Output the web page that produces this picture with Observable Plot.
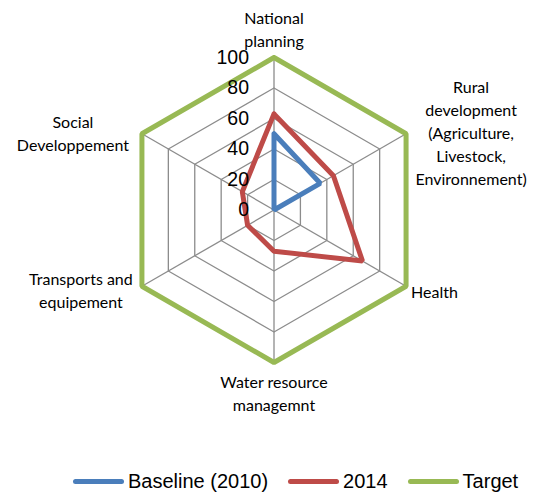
<!DOCTYPE html>
<html>
<head>
<meta charset="utf-8">
<script src="https://cdn.jsdelivr.net/npm/d3@7"></script>
<script src="https://cdn.jsdelivr.net/npm/@observablehq/plot@0.6"></script>
<style>
  body { margin: 0; background: #fff; }
  #chart { width: 554px; }
  .legend { display: flex; justify-content: flex-start; align-items: center; padding-left: 73px; height: 42px;
    font-family: "Liberation Sans", Arial, sans-serif; font-size: 20px; color: #000; }
  .legend .item { display: flex; align-items: center; margin-right: 20px; }
  .legend .sw { width: 51px; height: 5px; border-radius: 3px; margin-right: 4px; }
</style>
</head>
<body>
<div id="chart"></div>
<script>
// ---- data ----
const categories = [
  "National\nplanning",
  "Rural\ndevelopment\n(Agriculture,\nLivestock,\nEnvironnement)",
  "Health",
  "Water resource\nmanagemnt",
  "Transports and\nequipement",
  "Social\nDeveloppement"
];
const seriesNames = ["Baseline (2010)", "2014", "Target"];
const baseline = [50, 35, 0, 0, 0, 0];
const y2014 = [63, 45, 67, 27, 20, 24];
const target = [100, 100, 100, 100, 100, 100];
const seriesColors = ["#4A7EBB", "#BE4B48", "#98B954"];
const gridLevels = [20, 40, 60, 80, 100];
const tickLabels = [0, 20, 40, 60, 80, 100];

// ---- polar helpers ----
const n = categories.length;
const ang = i => (i % n) * 2 * Math.PI / n;
const px = (i, r) => r * Math.sin(ang(i));
const py = (i, r) => r * Math.cos(ang(i));

const seriesData = [];
[baseline, y2014, target].forEach((vals, s) => {
  for (let i = 0; i <= n; i++) {
    seriesData.push({series: seriesNames[s], x: px(i, vals[i % n]), y: py(i, vals[i % n])});
  }
});
const ringData = [];
gridLevels.forEach(l => {
  for (let i = 0; i <= n; i++) ringData.push({level: l, x: px(i, l), y: py(i, l)});
});
const spokes = categories.map((c, i) => ({x1: 0, y1: 0, x2: px(i, 100), y2: py(i, 100)}));

const labelOffsets = [
  {dx: 0, dy: -11, anchor: "middle", lineAnchor: "bottom"},
  {dx: 65, dy: -2, anchor: "middle", lineAnchor: "middle"},
  {dx: 5, dy: 4, anchor: "start", lineAnchor: "middle"},
  {dx: 0, dy: 9, anchor: "middle", lineAnchor: "top"},
  {dx: -61, dy: 3, anchor: "middle", lineAnchor: "middle"},
  {dx: -69, dy: -2, anchor: "middle", lineAnchor: "middle"}
];
const labelData = categories.map((c, i) => ({text: c, x: px(i, 100), y: py(i, 100), ...labelOffsets[i]}));

const catFont = "Lato, 'Open Sans', sans-serif";
const textMarks = labelData.map(d => Plot.text([d], {
  x: "x", y: "y", text: "text", dx: d.dx, dy: d.dy, textAnchor: d.anchor, lineAnchor: d.lineAnchor,
  fontSize: 16, fontFamily: catFont, fill: "#000", lineHeight: 1.43
}));

const chart = Plot.plot({
  width: 554,
  height: 460,
  margin: 0,
  x: {domain: [-100, 100], range: [121, 426], axis: null},
  y: {domain: [-100, 100], range: [362, 57], axis: null},
  style: {background: "#fff"},
  marks: [
    Plot.line(ringData, {x: "x", y: "y", z: "level", stroke: "#8c8c8c", strokeWidth: 1.3}),
    Plot.link(spokes, {x1: "x1", y1: "y1", x2: "x2", y2: "y2", stroke: "#8c8c8c", strokeWidth: 1.3}),
    Plot.line(seriesData.filter(d => d.series === "Target"), {x: "x", y: "y", stroke: seriesColors[2], strokeWidth: 5, strokeLinejoin: "miter"}),
    Plot.line(seriesData.filter(d => d.series === "2014"), {x: "x", y: "y", stroke: seriesColors[1], strokeWidth: 5, strokeLinejoin: "miter"}),
    Plot.line(seriesData.filter(d => d.series === "Baseline (2010)"), {x: "x", y: "y", stroke: seriesColors[0], strokeWidth: 5, strokeLinejoin: "miter"}),
    Plot.text(tickLabels, {x: 0, y: d => d, text: d => String(d), dx: -25, textAnchor: "end",
      fontSize: 19.5, fontFamily: "'Liberation Sans', Arial, sans-serif", fill: "#000"}),
    ...textMarks
  ]
});
document.getElementById("chart").appendChild(chart);

const legend = document.createElement("div");
legend.className = "legend";
seriesNames.forEach((name, i) => {
  const item = document.createElement("div");
  item.className = "item";
  const sw = document.createElement("span");
  sw.className = "sw";
  sw.style.background = seriesColors[i];
  const t = document.createElement("span");
  t.textContent = name;
  item.appendChild(sw); item.appendChild(t);
  legend.appendChild(item);
});
document.getElementById("chart").appendChild(legend);
</script>
</body>
</html>
